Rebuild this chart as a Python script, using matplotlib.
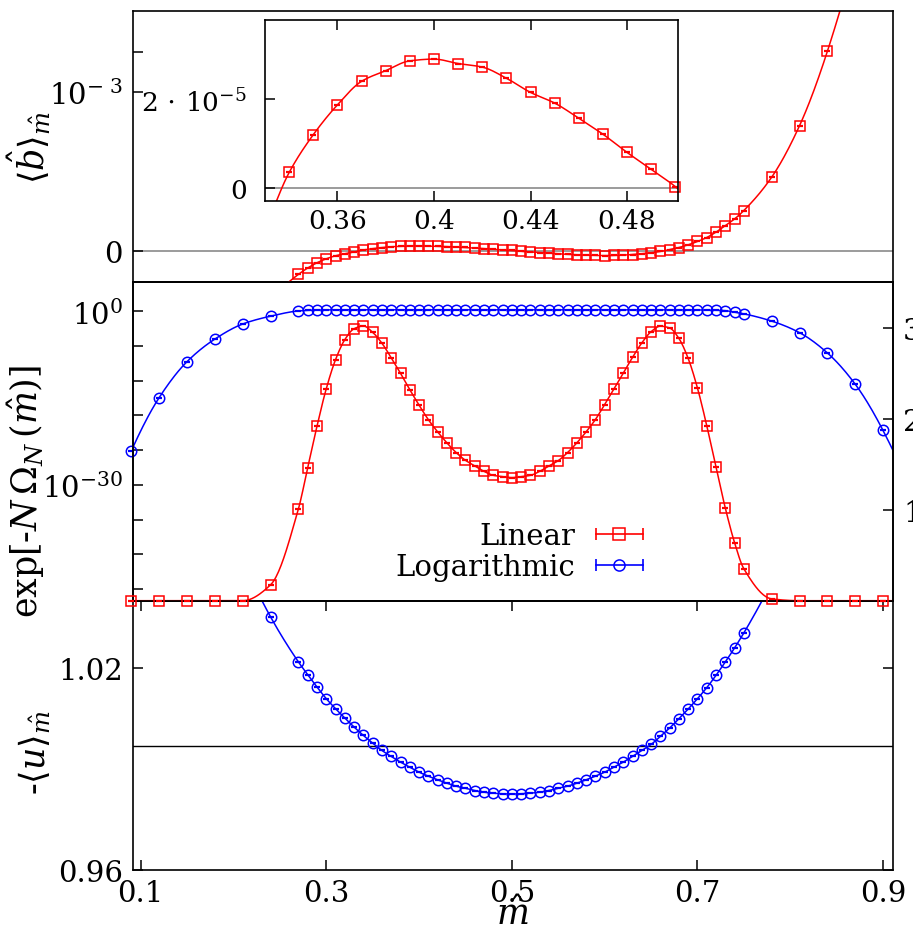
import numpy as np
import matplotlib
matplotlib.use("Agg")
import matplotlib.pyplot as plt
from matplotlib.lines import Line2D
from matplotlib.legend_handler import HandlerBase

# ---------------------------------------------------------------- data
# sampling grid in m-hat: coarse wings + fine central region
m_wing_lo = [0.09, 0.12, 0.15, 0.18, 0.21, 0.24]
m_core = [round(0.27 + 0.01 * k, 2) for k in range(49)]          # 0.27 ... 0.75
m_wing_hi = [0.78, 0.81, 0.84, 0.87, 0.90]
m_full = m_wing_lo + m_core + m_wing_hi

# <b>_m (Linear), units of 1e-6, visible part 0.27 ... 0.84
m_b = m_core + [0.78, 0.81, 0.84]
b_lin = [-150, -110, -77, -52, -33, -20, -9, 3.5, 12.0, 18.7,
         24.0, 26.4, 28.6, 29.0, 28.0, 27.2, 24.7, 21.5, 19.1, 15.7,
         12.1, 8.0, 4.2, 0.3, -5, -9, -13, -17, -21, -24,
         -27, -29, -31, -32, -31, -29, -25, -20, -14, -6,
         6, 19, 36, 57, 82, 116, 157, 199, 252,
         462, 786, 1254]

# exp[-N Omega_N], Logarithmic: log10 values on the left (log) axis
logP_log = [-24.1, -14.9, -8.7, -4.8, -2.2, -0.85,
            0.05, 0.15, 0.20, 0.23,
            0.25, 0.25, 0.25, 0.25, 0.25, 0.25, 0.25, 0.25, 0.25, 0.25,
            0.25, 0.25, 0.25, 0.25, 0.25, 0.25, 0.25, 0.25, 0.25, 0.25,
            0.25, 0.25, 0.25, 0.25, 0.25, 0.25, 0.25, 0.25, 0.25, 0.25,
            0.25, 0.25, 0.25, 0.25, 0.25, 0.25, 0.25, 0.25, 0.25,
            0.23, 0.20, 0.17, 0.10, -0.17, -0.45,
            -1.7, -3.7, -7.2, -12.6, -20.6]
# exp[-N Omega_N], Linear: values on the right (linear) axis
P_lin = [0, 0, 0, 0, 0, 0.175,
         1.01, 1.463, 1.918, 2.33, 2.65, 2.87, 2.99, 3.02, 2.95, 2.83,
         2.67, 2.50, 2.32, 2.15, 1.99, 1.856, 1.735, 1.628, 1.543, 1.482,
         1.422, 1.378, 1.364, 1.353, 1.364, 1.378, 1.422, 1.482, 1.540, 1.628,
         1.735, 1.856, 1.991, 2.156, 2.325, 2.501, 2.674, 2.833, 2.957, 3.018,
         2.998, 2.883, 2.663, 2.338, 1.925, 1.466, 1.019, 0.637, 0.351,
         0.02, 0, 0, 0, 0]

# -<u>_m (Logarithmic), visible part 0.24 ... 0.75
m_u = [0.24] + m_core
u_log = [1.03518,
         1.02178, 1.01800, 1.01433, 1.01086, 1.00788, 1.00510, 1.00242, 0.99993,
         0.99765, 0.99546, 0.99368, 0.99199, 0.99050, 0.98901, 0.98782, 0.98673,
         0.98573, 0.98484, 0.98424, 0.98355, 0.98305, 0.98276, 0.98258, 0.98250,
         0.98258, 0.98276, 0.98305, 0.98355, 0.98424, 0.98484, 0.98573, 0.98673,
         0.98782, 0.98901, 0.99050, 0.99199, 0.99368, 0.99546, 0.99725, 0.99963,
         1.00212, 1.00490, 1.00778, 1.01086, 1.01413, 1.01781, 1.02178, 1.02595,
         1.03042]
u_ref = 0.99686

x_ticks = [0.1, 0.3, 0.5, 0.7, 0.9]
x_ticklabels = ["0.1", "0.3", "0.5", "0.7", "0.9"]
inset_ticks = [0.36, 0.40, 0.44, 0.48]
inset_ticklabels = ["0.36", "0.4", "0.44", "0.48"]
series_names = ["Linear", "Logarithmic"]


# ---------------------------------------------------------------- helpers
def pchip(x, y, xs):
    """Monotone cubic Hermite curve through (x, y), evaluated at xs."""
    x = np.asarray(x, float)
    y = np.asarray(y, float)
    xs = np.asarray(xs, float)
    h = np.diff(x)
    d = np.diff(y) / h
    m = np.zeros_like(y)
    for k in range(1, len(x) - 1):
        if d[k - 1] * d[k] > 0:
            w1 = 2 * h[k] + h[k - 1]
            w2 = h[k] + 2 * h[k - 1]
            m[k] = (w1 + w2) / (w1 / d[k - 1] + w2 / d[k])

    def end(h0, h1, d0, d1):
        s = ((2 * h0 + h1) * d0 - h0 * d1) / (h0 + h1)
        if np.sign(s) != np.sign(d0):
            s = 0.0
        elif np.sign(d0) != np.sign(d1) and abs(s) > abs(3 * d0):
            s = 3 * d0
        return s

    m[0] = end(h[0], h[1], d[0], d[1])
    m[-1] = end(h[-1], h[-2], d[-1], d[-2])
    i = np.clip(np.searchsorted(x, xs) - 1, 0, len(x) - 2)
    t = (xs - x[i]) / h[i]
    h00 = 2 * t**3 - 3 * t**2 + 1
    h10 = t**3 - 2 * t**2 + t
    h01 = -2 * t**3 + 3 * t**2
    h11 = t**3 - t**2
    return h00 * y[i] + h10 * h[i] * m[i] + h01 * y[i + 1] + h11 * h[i] * m[i + 1]


class CappedKey(HandlerBase):
    """Legend key: horizontal bar with end caps and the series marker."""

    def create_artists(self, legend, orig_handle, xdescent, ydescent,
                       width, height, fontsize, trans):
        c = orig_handle.get_color()
        y = height / 2 - ydescent
        x0, x1 = -xdescent, width - xdescent
        bar = Line2D([x0, x1], [y, y], color=c, lw=1.2)
        caps = Line2D([x0, x1], [y, y], ls="none", marker="|", ms=9,
                      mew=1.2, color=c)
        mk = Line2D([(x0 + x1) / 2], [y], ls="none",
                    marker=orig_handle.get_marker(), ms=8, mfc="none",
                    mec=c, mew=1.1)
        for a in (bar, caps, mk):
            a.set_transform(trans)
        return [bar, caps, mk]


# ---------------------------------------------------------------- style
plt.rcParams.update({
    "font.family": "DejaVu Serif",
    "mathtext.fontset": "dejavuserif",
    "axes.linewidth": 1.2,
    "xtick.direction": "in",
    "ytick.direction": "in",
    "xtick.major.size": 7,
    "ytick.major.size": 7,
    "xtick.major.width": 1.1,
    "ytick.major.width": 1.1,
    "xtick.labelsize": 21,
    "ytick.labelsize": 21,
    "xtick.major.pad": 7,
    "ytick.major.pad": 7,
})

RED, BLUE = "#ff0000", "#0000ff"
MS, MEW, LW = 7.5, 1.1, 1.1
LABEL_FS = 25

fig = plt.figure(figsize=(9.13, 9.28), dpi=100)
L, W = 0.14534, 0.83243
ax_top = fig.add_axes([L, 0.69472, W, 0.98707 - 0.69472])
ax_mid = fig.add_axes([L, 0.35162, W, 0.69472 - 0.35162])
ax_bot = fig.add_axes([L, 0.06175, W, 0.35162 - 0.06175])
ax_r = ax_mid.twinx()
ax_in = fig.add_axes([0.2903, 0.7820, 0.4520, 0.1954])

ax_bot.set_zorder(1)
ax_mid.set_zorder(2)
ax_r.set_zorder(3)
ax_top.set_zorder(4)
ax_in.set_zorder(5)
for a in (ax_top, ax_mid, ax_bot, ax_r):
    a.patch.set_visible(False)

XLIM = (0.0914, 0.9104)
for a in (ax_top, ax_mid, ax_bot):
    a.set_xlim(*XLIM)


def draw_series(ax, x, y, color, marker, lo, hi, log=False):
    xs = np.linspace(lo, hi, 600)
    if log:
        ys = 10 ** pchip(x, y, xs)
        yy = 10 ** np.asarray(y, float)
    else:
        ys = pchip(x, y, xs)
        yy = np.asarray(y, float)
    ax.plot(xs, ys, color=color, lw=LW, zorder=2)
    ax.plot(x, yy, ls="none", marker=marker, ms=MS, mfc="none", mec=color,
            mew=MEW, clip_on=False, zorder=3)
    ax.plot(x, yy, ls="none", marker="_", ms=5, mew=1.6, color=color,
            clip_on=False, zorder=3)


# ---------------------------------------------------------------- top panel
b_vals = np.array(b_lin) * 1e-6
ax_top.axhline(0, color="#808080", lw=1.1, zorder=1)
draw_series(ax_top, m_b, b_vals, RED, "s", 0.255, 0.86)
ax_top.set_ylim(-0.2e-3, 1.508e-3)
ax_top.set_xticks([])
ax_top.set_yticks([0, 1e-3, 1.25e-3])
ax_top.set_yticklabels(["0", r"$10^{-\,\,3}$", ""])
ax_top.set_ylabel(r"$\langle\hat{b}\rangle_{\hat{m}}$", fontsize=LABEL_FS)
ax_top.yaxis.set_label_coords(-0.105, 0.5)

# inset
ax_in.axhline(0, color="#808080", lw=1.1, zorder=1)
xs_in = np.linspace(0.33, 0.501, 300)
ax_in.plot(xs_in, pchip(m_b, b_vals, xs_in), color=RED, lw=LW)
sel = [i for i, v in enumerate(m_b) if 0.335 <= v <= 0.505]
xi = [m_b[i] for i in sel]
yi = [b_vals[i] for i in sel]
ax_in.plot(xi, yi, ls="none", marker="s", ms=MS, mfc="none", mec=RED,
           mew=MEW, clip_on=False)
ax_in.plot(xi, yi, ls="none", marker="_", ms=5, mew=1.6, color=RED,
           clip_on=False)
ax_in.set_xlim(0.33, 0.501)
ax_in.set_ylim(-3e-6, 3.78e-5)
ax_in.set_xticks(inset_ticks)
ax_in.set_xticklabels(inset_ticklabels)
ax_in.tick_params(axis="x", top=True, pad=5, labelsize=19)
ax_in.set_yticks([0, 2e-5])
ax_in.set_yticklabels(["0", r"$2\,\cdot\,10^{-5}$"])
ax_in.tick_params(axis="y", pad=13, labelsize=19)

# ---------------------------------------------------------------- middle panel
ax_mid.set_yscale("log")
ax_mid.set_ylim(1e-50, 1e5)
draw_series(ax_mid, m_full, logP_log, BLUE, "o", XLIM[0], XLIM[1], log=True)
ax_mid.set_xticks([])
dec = list(range(0, -49, -6))
ax_mid.set_yticks([10.0 ** k for k in dec])
ax_mid.set_yticklabels([r"$10^{0}$" if k == 0 else (r"$10^{-30}$" if k == -30 else "")
                        for k in dec])
ax_mid.yaxis.set_minor_locator(matplotlib.ticker.NullLocator())
ax_mid.set_ylabel(r"exp[-$N\,\Omega_N\,(\hat{m})$]", fontsize=LABEL_FS)
ax_mid.yaxis.set_label_coords(-0.113, 0.345)

draw_series(ax_r, m_full, P_lin, RED, "s", XLIM[0], XLIM[1])
ax_r.set_ylim(0, 3.5)
ax_r.set_yticks([1, 2, 3])
ax_r.set_yticklabels(["1", "2", "3"])
ax_r.tick_params(axis="y", pad=7.5)

h_lin = Line2D([], [], color=RED, marker="s")
h_log = Line2D([], [], color=BLUE, marker="o")
ax_r.legend([h_lin, h_log], series_names,
            handler_map={h_lin: CappedKey(), h_log: CappedKey()},
            markerfirst=False, frameon=False, loc="lower right",
            bbox_to_anchor=(0.671, 0.062), borderpad=0, borderaxespad=0,
            handlelength=1.6, handletextpad=0.7, labelspacing=0.1,
            fontsize=21)

# ---------------------------------------------------------------- bottom panel
ax_bot.axhline(u_ref, color="black", lw=1.0, zorder=1)
draw_series(ax_bot, m_u, u_log, BLUE, "o", 0.225, 0.775)
ax_bot.set_ylim(0.96, 1.04)
ax_bot.set_yticks([0.96, 1.02])
ax_bot.set_yticklabels(["0.96", "1.02"])
ax_bot.tick_params(axis="y", right=True)
ax_bot.set_xticks(x_ticks)
ax_bot.set_xticklabels(x_ticklabels)
ax_bot.tick_params(axis="x", top=True)
ax_bot.set_ylabel(r"-$\langle u\rangle_{\hat{m}}$", fontsize=LABEL_FS)
ax_bot.yaxis.set_label_coords(-0.105, 0.441)
ax_bot.set_xlabel(r"$\hat{m}$", fontsize=LABEL_FS)
ax_bot.xaxis.set_label_coords(0.5, -0.1)

fig.savefig("out.png", dpi=100, facecolor="white")
